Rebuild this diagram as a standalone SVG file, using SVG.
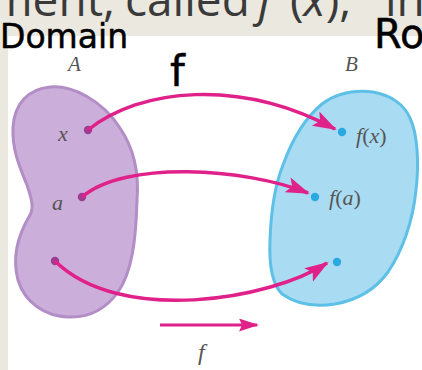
<svg xmlns="http://www.w3.org/2000/svg" width="422" height="370" viewBox="0 0 422 370">
  <style>
    .lbl { font-family: "Liberation Serif", "DejaVu Serif", serif; font-style: italic; fill: #555; }
    .up { font-style: normal; }
    .hand { font-family: "DejaVu Sans", "Liberation Sans", sans-serif; fill: #000; stroke: #000; stroke-width: 0.5; stroke-linejoin: round; }
    .top { font-family: "Open Sans", "DejaVu Sans", sans-serif; font-size: 46px; fill: #3a3a3a; }
    .conn { fill: none; stroke: #e0218a; stroke-width: 3.5; }
    .pdot { fill: #9c3d92; }
    .bdot { fill: #29a9e1; }
  </style>
  <defs>
    <marker id="head" markerUnits="userSpaceOnUse" markerWidth="26" markerHeight="18" refX="22" refY="8" orient="auto">
      <path d="M0,0 L24,8 L0,16 L5,8 z" fill="#e0218a"/>
    </marker>
    <marker id="headS" markerUnits="userSpaceOnUse" markerWidth="22" markerHeight="14" refX="18" refY="6.5" orient="auto">
      <path d="M0,0 L20,6.5 L0,13 L3,6.5 z" fill="#e0218a"/>
    </marker>
  </defs>

  <!-- background: screenshot page -->
  <rect x="0" y="0" width="422" height="370" fill="#ebe8e0"/>
  <rect x="8" y="36" width="414" height="334" fill="#ffffff"/>

  <!-- cut-off text line at top -->
  <g id="page-text">
    <text class="top" x="-10" y="16">ment,</text>
    <text class="top" x="125" y="16">called</text>
    <text class="top" x="258" y="16" font-style="italic">f</text>
    <text class="top" x="290" y="16">(<tspan font-style="italic">x</tspan>),</text>
    <text class="top" x="385" y="16">in</text>
  </g>

  <!-- handwritten annotations -->
  <g id="annotations">
    <text class="hand" x="0" y="48" font-size="33" letter-spacing="0">Domain</text>
    <text class="hand" x="374" y="48" font-size="40">Ro</text>
    <text class="hand" x="170" y="86" font-size="42">f</text>
  </g>

  <!-- Set A -->
  <g id="node-A">
    <path d="M50,87 C72,85 102,100 120,128 C135,150 139,175 137,200 C136,240 132,272 118,292 C105,310 88,318 68,317 C45,316 25,303 18,280 C12,258 18,235 30,215 C34,208 32,200 27,185 C20,168 12,150 13,128 C14,104 28,89 50,87 Z" fill="#cbaed9" stroke="#b28dc6" stroke-width="3"/>
    <text class="lbl" x="68" y="71" font-size="21">A</text>
    <circle class="pdot" cx="88" cy="130" r="4.2"/>
    <circle class="pdot" cx="82" cy="197" r="4.2"/>
    <circle class="pdot" cx="55" cy="261" r="4.2"/>
    <text class="lbl" x="58" y="141" font-size="22">x</text>
    <text class="lbl" x="52" y="210" font-size="22">a</text>
  </g>

  <!-- Set B -->
  <g id="node-B">
    <path d="M373,92 C390,95 404,104 410,118 C418,135 419,165 416,190 C413,220 403,250 388,272 C375,290 358,300 335,304 C315,307 296,304 282,294 C272,284 269,262 270,240 C271,210 275,185 283,165 C292,140 305,118 322,104 C337,93 356,90 373,92 Z" fill="#a9dcf2" stroke="#5ec0e7" stroke-width="3"/>
    <text class="lbl" x="345" y="71" font-size="21">B</text>
    <circle class="bdot" cx="342" cy="132" r="4.2"/>
    <circle class="bdot" cx="315" cy="197" r="4.2"/>
    <circle class="bdot" cx="337" cy="262" r="4.2"/>
    <text class="lbl" x="356" y="143" font-size="22">f<tspan class="up">(</tspan>x<tspan class="up">)</tspan></text>
    <text class="lbl" x="329" y="205" font-size="22">f<tspan class="up">(</tspan>a<tspan class="up">)</tspan></text>
  </g>

  <!-- connectors -->
  <g id="connectors">
    <path class="conn" d="M88,130 C140,88 240,78 335,129" marker-end="url(#head)"/>
    <path class="conn" d="M82,197 C125,160 245,168 308,193" marker-end="url(#head)"/>
    <path class="conn" d="M55,261 C120,325 270,300 327,263" marker-end="url(#head)"/>
    <path d="M160,325 L257,325" fill="none" stroke="#e0218a" stroke-width="3" marker-end="url(#headS)"/>
    <text class="lbl" x="198" y="360" font-size="24">f</text>
  </g>
</svg>
